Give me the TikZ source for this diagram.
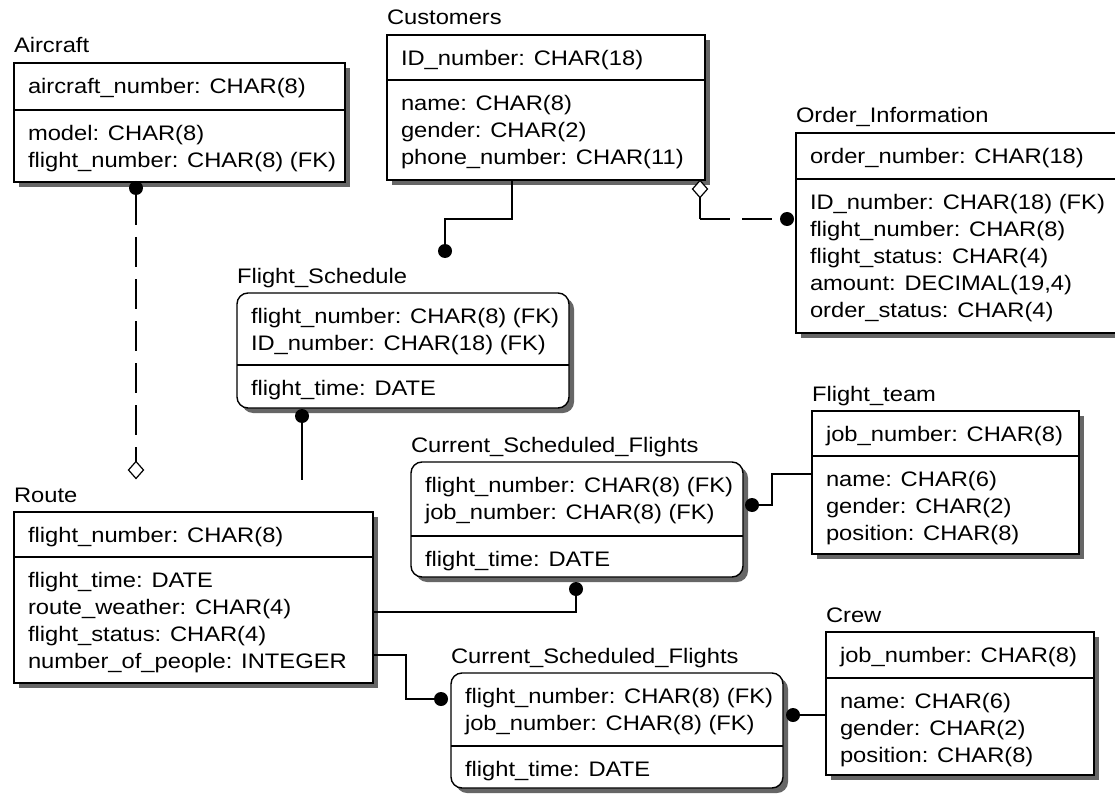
\documentclass[tikz,border=0pt]{standalone}
\usepackage{fontspec}
\setmainfont{Liberation Sans}[FakeStretch=1.13]
\usetikzlibrary{shapes.geometric}
\tikzset{
  x=1pt, y=-1pt,
  ebox/.style={draw, line width=1.4pt, inner sep=0pt, outer sep=0pt, fill=white},
  sq/.style={},
  rd/.style={rounded corners=11pt},
  shad/.style={fill=black!60},
  txt/.style={inner sep=0pt, outer sep=0pt, anchor=base west, font=\fontsize{21}{27}\selectfont},
  conn/.style={line width=1.5pt},
  dashpat/.style={dash pattern=on 30pt off 12pt},
  dot/.style={circle, fill=black, inner sep=0pt, outer sep=0pt, minimum size=14pt},
  dia/.style={diamond, draw, fill=white, line width=1.2pt, inner sep=0pt, outer sep=0pt, minimum width=15pt, minimum height=17pt},
}
\newcommand\entity[8]{%
  \fill[shad,#7] ({#2+5},{#3+5}) rectangle ({#4+5},{#6+5});
  \pgfmathsetmacro\ew{#4-#2}\pgfmathsetmacro\eh{#6-#3}
  \node[ebox,#7,minimum width=\ew pt,minimum height=\eh pt,anchor=north west] (#1) at (#2,#3) {};
  \draw[line width=1.4pt] (#2,#5) -- (#4,#5);
  \node[txt] (#1-t) at (#2,{#3-10}) {#8};
}
\newcommand\elines[4]{%
  \foreach \s [count=\i] in {#4} {\node[txt] (#1-\i) at ({#2+14},{#3+30.5+27*(\i-1)}) {\s};}
}
\begin{document}
\begin{tikzpicture}
\useasboundingbox (0,0) rectangle (1115,794);
\fill[white] (0,0) rectangle (1115,794);
\begin{scope}
\clip (0,0) rectangle (1115,794);
% entities
\entity{ac}{14}{63}{345}{110}{182}{sq}{Aircraft}
\elines{ack}{14}{63}{{aircraft\_number: CHAR(8)}}
\elines{aca}{14}{110}{{model: CHAR(8)},{flight\_number: CHAR(8) (FK)}}

\entity{cu}{387}{35}{705}{80}{180}{sq}{Customers}
\elines{cuk}{387}{35}{{ID\_number: CHAR(18)}}
\elines{cua}{387}{80}{{name: CHAR(8)},{gender: CHAR(2)},{phone\_number: CHAR(11)}}

\entity{oi}{796}{133}{1122}{179}{333}{sq}{Order\_Information}
\elines{oik}{796}{133}{{order\_number: CHAR(18)}}
\elines{oia}{796}{179}{{ID\_number: CHAR(18) (FK)},{flight\_number: CHAR(8)},{flight\_status: CHAR(4)},{amount: DECIMAL(19,4)},{order\_status: CHAR(4)}}

\entity{fs}{237}{293}{569}{365}{408}{rd}{Flight\_Schedule}
\elines{fsk}{237}{293}{{flight\_number: CHAR(8) (FK)},{ID\_number: CHAR(18) (FK)}}
\elines{fsa}{237}{365}{{flight\_time: DATE}}

\entity{ro}{14}{512}{373}{557}{683}{sq}{Route}
\elines{rok}{14}{512}{{flight\_number: CHAR(8)}}
\elines{roa}{14}{557}{{flight\_time: DATE},{route\_weather: CHAR(4)},{flight\_status: CHAR(4)},{number\_of\_people: INTEGER}}

\entity{c1}{411}{462}{743}{536}{577}{rd}{Current\_Scheduled\_Flights}
\elines{c1k}{411}{462}{{flight\_number: CHAR(8) (FK)},{job\_number: CHAR(8) (FK)}}
\elines{c1a}{411}{536}{{flight\_time: DATE}}

\entity{ft}{812}{411}{1079}{456}{554}{sq}{Flight\_team}
\elines{ftk}{812}{411}{{job\_number: CHAR(8)}}
\elines{fta}{812}{456}{{name: CHAR(6)},{gender: CHAR(2)},{position: CHAR(8)}}

\entity{c2}{451}{673}{783}{746}{788}{rd}{Current\_Scheduled\_Flights}
\elines{c2k}{451}{673}{{flight\_number: CHAR(8) (FK)},{job\_number: CHAR(8) (FK)}}
\elines{c2a}{451}{746}{{flight\_time: DATE}}

\entity{cr}{826}{632}{1094}{678}{775}{sq}{Crew}
\elines{crk}{826}{632}{{job\_number: CHAR(8)}}
\elines{cra}{826}{678}{{name: CHAR(6)},{gender: CHAR(2)},{position: CHAR(8)}}

% connector ends
\node[dot] (d1) at (136,188) {};
\node[dia] (m1) at (136,470) {};
\node[dot] (d2) at (445,251) {};
\node[dia] (m2) at (700,189) {};
\node[dot] (d3) at (787,219) {};
\node[dot] (d4) at (302,416) {};
\coordinate (e4) at (302,480);
\node[dot] (d5) at (576,589) {};
\node[dot] (d6) at (441,699) {};
\node[dot] (d7) at (752,505) {};
\node[dot] (d8) at (793,715) {};

% connectors
\draw[conn,dashpat] (d1) -- (m1);
\draw[conn] (cu.south west) ++(125,0) -- ++(0,39) -| (d2);
\draw[conn] (m2.south) -- (m2.south |- d3);
\draw[conn,dashpat] (m2.south |- d3) -- (d3);
\draw[conn] (d4) -- (e4);
\draw[conn] (ro.north east) ++(0,100) -| (d5);
\draw[conn] (ro.north east) ++(0,143) -- ++(33,0) |- (d6);
\draw[conn] (ft.north west) ++(0,63) -- ++(-40,0) |- (d7);
\draw[conn] (d8) -- (d8 -| cr.west);
\end{scope}
\end{tikzpicture}
\end{document}
